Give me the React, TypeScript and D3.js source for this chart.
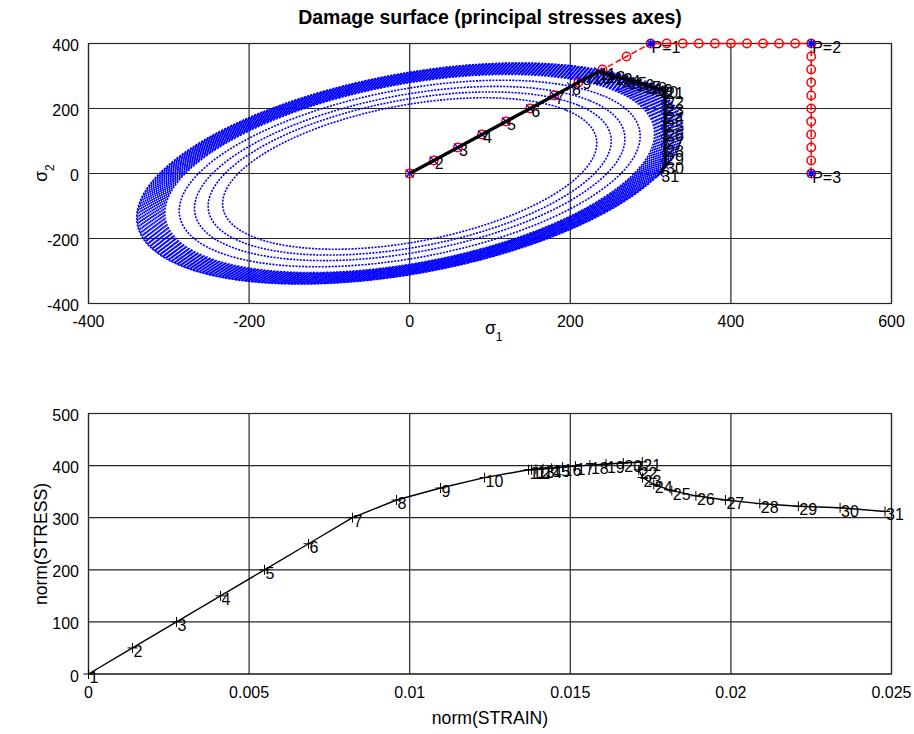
import React from 'react';
import * as d3 from 'd3';

const W = 914;
const H = 734;
const FONT = '"Liberation Sans", Arial, Helvetica, sans-serif';

// ---------- top plot data (principal stresses) ----------
const trialS1 = [0, 30, 60, 90, 120, 150, 180, 210, 240, 270, 300, 320, 340, 360, 380, 400, 420, 440, 460, 480, 500, 500, 500, 500, 500, 500, 500, 500, 500, 500, 500];
const trialS2 = [0, 40, 80, 120, 160, 200, 240, 280, 320, 360, 400, 400, 400, 400, 400, 400, 400, 400, 400, 400, 400, 360, 320, 280, 240, 200, 160, 120, 80, 40, 0];
const stressS1 = [0, 30, 60, 90, 120, 150, 180, 201, 214, 227, 235, 245, 254, 264, 272, 281, 289, 297, 304, 311, 318, 318, 318, 318, 318, 318, 318, 318, 318, 318, 312];
const stressS2 = [0, 40, 80, 120, 160, 200, 240, 268, 286, 302, 314, 306, 299, 293, 286, 281, 275, 270, 264, 259, 254, 229, 203, 178, 153, 127, 102, 76, 51, 25, 0];
const pointS1 = [300, 500, 500];
const pointS2 = [400, 400, 0];
const pointLabels = ['P=1', 'P=2', 'P=3'];
const surfaceExtent = [233, 251, 268, 287, 305, 307, 309, 311, 313, 315, 317, 319, 321, 323, 325, 327, 329, 331, 333, 335, 337, 339, 340];
const surfaceCoupling = 0.4;
const topXTicks = [-400, -200, 0, 200, 400, 600];
const topYTicks = [-400, -200, 0, 200, 400];

// ---------- bottom plot data ----------
const strainNorm = [0, 0.00137, 0.00274, 0.00411, 0.00548, 0.00685, 0.00822, 0.00959, 0.01096, 0.01233, 0.0137, 0.01379, 0.01393, 0.01415, 0.01442, 0.01476, 0.01516, 0.01561, 0.01611, 0.01665, 0.01724, 0.01713, 0.01725, 0.0176, 0.01816, 0.01891, 0.01983, 0.0209, 0.0221, 0.0234, 0.0248];
const stressNorm = [0, 50, 100, 150, 200, 250, 300, 334, 357, 377, 392, 392, 393, 394, 395, 397, 399, 401, 403, 405, 407, 392, 377, 364, 352, 342, 334, 327, 322, 319, 312];
const botXTicks = [0, 0.005, 0.01, 0.015, 0.02, 0.025];
const botXTickLabels = ['0', '0.005', '0.01', '0.015', '0.02', '0.025'];
const botYTicks = [0, 100, 200, 300, 400, 500];

const GRID = '#262626';

export default function App() {
  const xT = d3.scaleLinear().domain([-400, 600]).range([88.5, 891.5]);
  const yT = d3.scaleLinear().domain([-400, 400]).range([303.5, 43.5]);
  const xB = d3.scaleLinear().domain([0, 0.025]).range([88.5, 891.5]);
  const yB = d3.scaleLinear().domain([0, 500]).range([674, 413.5]);

  const ellipse = (L: number) => {
    const c = surfaceCoupling;
    const K = L * L * (1 - c * c);
    const A = Math.sqrt(K / (1 - c));
    const B = Math.sqrt(K / (1 + c));
    const pts: [number, number][] = d3.range(0, 360, 1.5).map((deg) => {
      const t = (deg * Math.PI) / 180;
      const u = A * Math.cos(t);
      const v = B * Math.sin(t);
      return [(u + v) / Math.SQRT2, (u - v) / Math.SQRT2];
    });
    return d3
      .line<[number, number]>()
      .x((d) => xT(d[0]))
      .y((d) => yT(d[1]))
      .curve(d3.curveLinearClosed)(pts) as string;
  };

  const trialLine = d3
    .line<number>()
    .x((i) => xT(trialS1[i]))
    .y((i) => yT(trialS2[i]))(d3.range(trialS1.length)) as string;
  const stressLine = d3
    .line<number>()
    .x((i) => xT(stressS1[i]))
    .y((i) => yT(stressS2[i]))(d3.range(stressS1.length)) as string;
  const normLine = d3
    .line<number>()
    .x((i) => xB(strainNorm[i]))
    .y((i) => yB(stressNorm[i]))(d3.range(strainNorm.length)) as string;

  const tickFont = 16;
  const labFont = 17.6;

  const axesFrame = (
    x0: number,
    x1: number,
    y0: number,
    y1: number,
    xs: number[],
    ys: number[]
  ) => (
    <g>
      {xs.map((x, i) => (
        <line key={'gx' + i} x1={x} x2={x} y1={y0} y2={y1} stroke={GRID} strokeWidth={1.2} />
      ))}
      {ys.map((y, i) => (
        <line key={'gy' + i} x1={x0} x2={x1} y1={y} y2={y} stroke={GRID} strokeWidth={1.2} />
      ))}
      <rect x={x0} y={y0} width={x1 - x0} height={y1 - y0} fill="none" stroke={GRID} strokeWidth={1.2} />
    </g>
  );

  return (
    <svg
      width={W}
      height={H}
      viewBox={`0 0 ${W} ${H}`}
      style={{ position: 'absolute', left: 0, top: 0, background: '#fff' }}
      fontFamily={FONT}
    >
      <rect x={0} y={0} width={W} height={H} fill="#fff" />

      {/* ================= TOP PLOT ================= */}
      {axesFrame(88.5, 891.5, 43.5, 303.5, topXTicks.map((t) => xT(t)), topYTicks.map((t) => yT(t)))}

      {/* damage surfaces */}
      <g fill="none" stroke="#0000ff" strokeWidth={1.6} strokeDasharray="2 1.3">
        {surfaceExtent.map((L, i) => (
          <path key={'e' + i} d={ellipse(L)} />
        ))}
      </g>

      {/* P labels */}
      {pointLabels.map((s, i) => (
        <text key={'pl' + i} x={xT(pointS1[i]) + 1} y={yT(pointS2[i]) + 9} fontSize={16} fill="#000">
          {s}
        </text>
      ))}

      {/* trial stress path */}
      <path d={trialLine} fill="none" stroke="#ff0000" strokeWidth={1.5} strokeDasharray="6 3" />
      <g fill="none" stroke="#ff0000" strokeWidth={1.5}>
        {trialS1.map((s, i) => (
          <circle key={'tc' + i} cx={xT(s)} cy={yT(trialS2[i])} r={4.2} />
        ))}
      </g>

      {/* actual stress path */}
      <g stroke="#0000ff" strokeWidth={1.2}>
        {stressS1.map((s, i) => {
          const cx = xT(s);
          const cy = yT(stressS2[i]);
          return (
            <path key={'bx' + i} d={`M${cx - 4},${cy - 4}L${cx + 4},${cy + 4}M${cx - 4},${cy + 4}L${cx + 4},${cy - 4}`} />
          );
        })}
      </g>
      <path d={stressLine} fill="none" stroke="#000" strokeWidth={3.3} strokeLinejoin="round" />

      {/* step labels */}
      <g fontSize={16} fill="#000">
        {stressS1.map((s, i) =>
          i === 0 ? null : (
            <text key={'sl' + i} x={xT(s) + 1} y={yT(stressS2[i]) + 8.5}>
              {i + 1}
            </text>
          )
        )}
      </g>

      {/* P markers (stars) */}
      <g stroke="#0000ff" strokeWidth={1.5}>
        {pointS1.map((s, i) => {
          const cx = xT(s);
          const cy = yT(pointS2[i]);
          const r = 4.5;
          const q = 3.3;
          return (
            <path
              key={'ps' + i}
              d={`M${cx - r},${cy}H${cx + r}M${cx},${cy - r}V${cy + r}M${cx - q},${cy - q}L${cx + q},${cy + q}M${cx - q},${cy + q}L${cx + q},${cy - q}`}
            />
          );
        })}
      </g>

      {/* top ticks */}
      <g fontSize={tickFont} fill="#000">
        {topXTicks.map((t) => (
          <text key={'tx' + t} x={xT(t)} y={327} textAnchor="middle">
            {t}
          </text>
        ))}
        {topYTicks.map((t) => (
          <text key={'ty' + t} x={79} y={yT(t) + 7.5} textAnchor="end">
            {t}
          </text>
        ))}
      </g>

      <text x={490} y={24} textAnchor="middle" fontSize={19.5} fontWeight="bold" fill="#000">
        Damage surface (principal stresses axes)
      </text>

      <text x={485} y={334} fontSize={labFont} fill="#000">
        σ<tspan fontSize={12} dy={7}>1</tspan>
      </text>
      <text transform="translate(47,173) rotate(-90)" fontSize={labFont} fill="#000" textAnchor="middle">
        σ<tspan fontSize={12} dy={7}>2</tspan>
      </text>

      {/* ================= BOTTOM PLOT ================= */}
      {axesFrame(88.5, 891.5, 413.5, 674, botXTicks.map((t) => xB(t)), botYTicks.map((t) => yB(t)))}

      <path d={normLine} fill="none" stroke="#000" strokeWidth={1.4} />
      <g stroke="#000" strokeWidth={1}>
        {strainNorm.map((e, i) => {
          const cx = xB(e);
          const cy = yB(stressNorm[i]);
          return <path key={'pm' + i} d={`M${cx - 5},${cy}H${cx + 5}M${cx},${cy - 5}V${cy + 5}`} />;
        })}
      </g>
      <g fontSize={16} fill="#000">
        {strainNorm.map((e, i) => (
          <text key={'nl' + i} x={xB(e) + 1} y={yB(stressNorm[i]) + 9}>
            {i + 1}
          </text>
        ))}
      </g>

      <g fontSize={tickFont} fill="#000">
        {botXTicks.map((t, i) => (
          <text key={'bx' + i} x={xB(t)} y={697.5} textAnchor="middle">
            {botXTickLabels[i]}
          </text>
        ))}
        {botYTicks.map((t) => (
          <text key={'by' + t} x={79} y={yB(t) + 7.5} textAnchor="end">
            {t}
          </text>
        ))}
      </g>

      <text x={490} y={724} textAnchor="middle" fontSize={labFont} fill="#000">
        norm(STRAIN)
      </text>
      <text transform="translate(47,544) rotate(-90)" textAnchor="middle" fontSize={labFont} fill="#000">
        norm(STRESS)
      </text>
    </svg>
  );
}
